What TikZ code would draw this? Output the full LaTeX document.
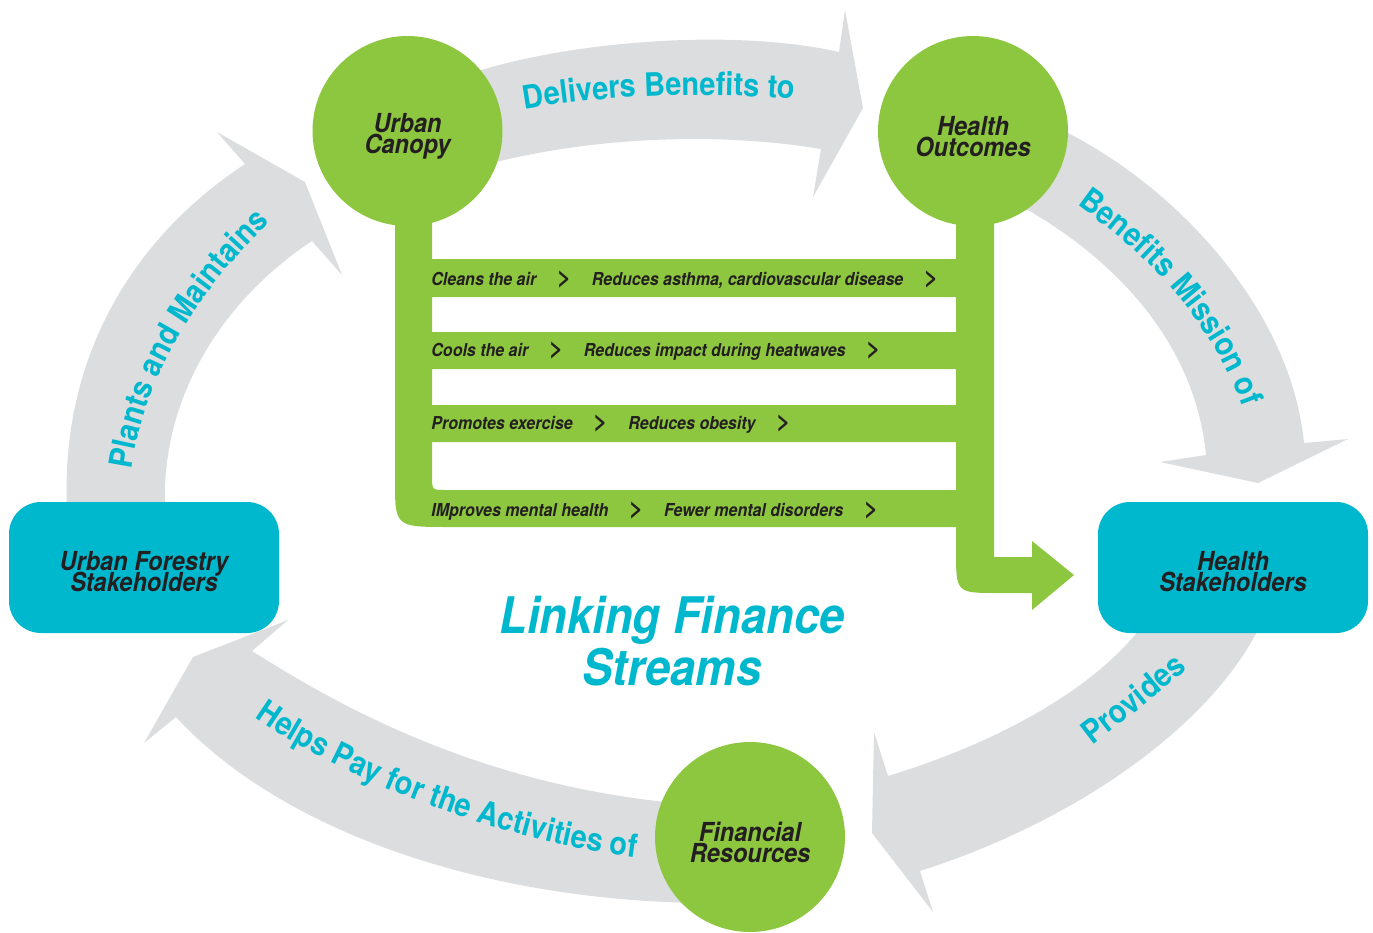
\documentclass[tikz,border=0pt]{standalone}
\usepackage{fontspec}
\setmainfont{TeX Gyre Heros}
\newfontfamily\narrowfont[FakeStretch=0.9]{TeX Gyre Heros}
\usetikzlibrary{positioning}
\usetikzlibrary{decorations.text}
\definecolor{canopygreen}{HTML}{8DC63F}
\definecolor{streamgray}{HTML}{DCDDDF}
\definecolor{linkcyan}{HTML}{00B8CD}
\definecolor{inkdark}{HTML}{231F20}
\newcommand{\flowfont}{\narrowfont\fontsize{16.1}{16.1}\selectfont\bfseries}
\newcommand{\ballfont}{\narrowfont\fontsize{13.1}{10.5}\selectfont\bfseries\itshape\setlength{\lineskiplimit}{-20pt}}

\begin{document}
\begin{tikzpicture}[x=0.5pt, y=-0.5pt,
    ball/.style={circle, fill=canopygreen, minimum size=95pt, inner sep=0pt},
    stakebox/.style={rectangle, fill=linkcyan, rounded corners=16pt, minimum width=135pt, minimum height=65.5pt, inner sep=0pt},
    balltext/.style={align=center, text=inkdark, yshift=-2.6pt, font=\ballfont},
    band/.style={fill=streamgray},
    flowlabel/.style={decorate, decoration={text along path, text align=center, text color=linkcyan, text={|\flowfont|#1}}},
    rowtext/.style={inner sep=0pt, text height=6.5pt, text depth=1.8pt, text=inkdark, font=\narrowfont\fontsize{8.9}{8.9}\selectfont\bfseries\itshape},
    chevron/.style={rowtext, font=\fontsize{12}{12}\selectfont\bfseries},
    headline/.style={align=center, text=linkcyan, font=\narrowfont\fontsize{25.2}{26}\selectfont\bfseries\itshape},
]
    \useasboundingbox (0,0) rectangle (1373,933);

    % Gray streams round the cycle
    \fill[band] (440,85) .. controls (530,45) and (720,25) .. (839,52) -- (845,10) -- (863,108) -- (813,197) -- (821,149) .. controls (720,132) and (580,135) .. (460,172) -- cycle;
    \fill[band] (1040,120) .. controls (1160,170) and (1290,300) .. (1304,443) -- (1348,439) -- (1258,483) -- (1160,462) -- (1206,455) .. controls (1195,340) and (1110,250) .. (1000,195) -- cycle;
    \fill[band] (1265,615) .. controls (1220,720) and (1080,820) .. (920,871) -- (933,912) -- (872,833) -- (874,732) -- (888,776) .. controls (990,745) and (1100,690) .. (1150,615) -- cycle;
    \fill[band] (700,903) .. controls (480,900) and (280,830) .. (176,717) -- (144,743) -- (193,657) -- (288,620) -- (252,651) .. controls (330,700) and (480,790) .. (700,805) -- cycle;
    \fill[band] (67,510) .. controls (60,360) and (130,240) .. (245,164) -- (217,132) -- (305,182) -- (342,275) -- (312,241) .. controls (230,295) and (160,390) .. (165,510) -- cycle;

    % Green ladder from canopy to outcomes
    \fill[canopygreen, even odd rule]
        (395,200) -- (395,480) .. controls (395,527) .. (450,527) -- (956,527) -- (956,550) .. controls (956,593) .. (998,593)
        -- (1032,593) -- (1032,610) -- (1074,575) -- (1032,541) -- (1032,557) -- (994,557) -- (994,200)
        -- (956,200) -- (956,259) -- (432,259) -- (432,200) -- cycle
        (432,297) rectangle (956,332)
        (432,369) rectangle (956,405)
        (432,442) -- (956,442) -- (956,490) -- (446,490) .. controls (432,490) .. (432,476) -- cycle;

    % Circles and boxes
    \node[ball, label={[balltext]center:{Urban\\Canopy}}] (canopy) at (407.5,131) {};
    \node[ball, label={[balltext]center:{Health\\Outcomes}}] (outcomes) at (973,131) {};
    \node[ball, label={[balltext]center:{Financial\\Resources}}] (finance) at (750,837) {};
    \node[stakebox, label={[balltext, yshift=0.8pt]center:{Urban Forestry\\Stakeholders}}] (forestry) at (144,567.5) {};
    \node[stakebox, label={[balltext, yshift=0.8pt]center:{Health\\Stakeholders}}] (healthstake) at (1233,567.5) {};

    % Words along the streams
    \path[flowlabel={Delivers Benefits to}] (460,125) .. controls (560,91) and (760,87) .. (860,109);
    \path[flowlabel={Benefits Mission of}] (1040,180) .. controls (1135,240) and (1225,320) .. (1255,450);
    \path[flowlabel={Provides}] (1040,785) .. controls (1100,740) and (1180,680) .. (1236,625);
    \path[flowlabel={Helps Pay for the Activities of}] (220,690) .. controls (320,780) and (540,855) .. (680,862);
    \path[flowlabel={Plants and Maintains}] (128,510) .. controls (130,390) and (200,280) .. (300,195);

    % Rows of the ladder
    \foreach \r/\y/\a/\b in {1/280.3/Cleans the air/{Reduces asthma, cardiovascular disease}, 2/351.3/Cools the air/Reduces impact during heatwaves, 3/424.6/Promotes exercise/Reduces obesity, 4/511.3/IMproves mental health/Fewer mental disorders} {
        \node[rowtext, anchor=west] (r\r-a) at (431,\y) {\a};
        \node[chevron, right=10pt of r\r-a] (r\r-g) {>};
        \node[rowtext, right=10pt of r\r-g] (r\r-b) {\b};
        \node[chevron, right=10pt of r\r-b] (r\r-h) {>};
    }

    \node[headline] (linking) at (672,641.5) {Linking Finance\\Streams};
\end{tikzpicture}
\end{document}
